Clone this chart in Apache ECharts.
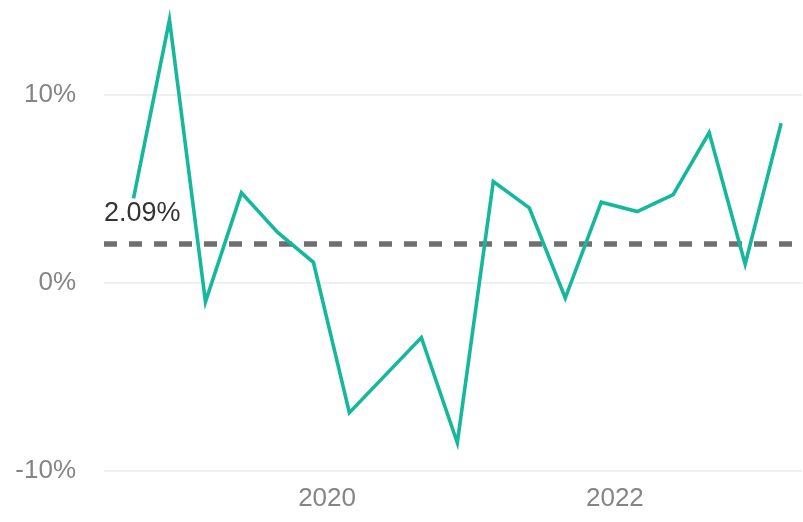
<!DOCTYPE html>
<html>
<head>
<meta charset="utf-8">
<title>Quarterly growth</title>
<script src="https://cdn.jsdelivr.net/npm/echarts@6/dist/echarts.min.js"></script>
<style>
  html, body { margin: 0; padding: 0; background: #ffffff; }
  #chart { width: 803px; height: 522px; }
</style>
</head>
<body>
<div id="chart"></div>
<script>
// Quarterly growth rate (%), 2018 Q3 – 2023 Q1
const quarters = [
  '2018 Q3', '2018 Q4',
  '2019 Q1', '2019 Q2', '2019 Q3', '2019 Q4',
  '2020 Q1', '2020 Q2', '2020 Q3', '2020 Q4',
  '2021 Q1', '2021 Q2', '2021 Q3', '2021 Q4',
  '2022 Q1', '2022 Q2', '2022 Q3', '2022 Q4',
  '2023 Q1'
];
const growth = [
  4.5, 14.0,
  -1.0, 4.8, 2.7, 1.1,
  -6.9, -4.9, -2.9, -8.5,
  5.4, 4.0, -0.8, 4.3,
  3.8, 4.7, 8.0, 1.0,
  8.5
];
const averageValue = 2.09;
const yearLabels = [2020, 2022];
const yTicks = [-10, 0, 10];

// Each quarter sits on a continuous year scale, dated near the end of its second month.
function quarterToYear(label) {
  const [y, q] = label.split(' Q');
  return Number(y) + (Number(q) - 1) / 4 + 0.155;
}
const points = quarters.map((q, i) => [quarterToYear(q), growth[i]]);

const labelFont = '"Liberation Sans", Arial, sans-serif';

const chart = echarts.init(document.getElementById('chart'));
chart.setOption({
  animation: false,
  backgroundColor: '#ffffff',
  grid: { left: 104, right: 1, top: -93, bottom: 51, outerBoundsMode: 'none', containLabel: false },
  xAxis: {
    type: 'value',
    min: 2018.45,
    max: 2023.3,
    interval: 0.05,
    axisLine: { show: false },
    axisTick: { show: false },
    splitLine: { show: false },
    minorSplitLine: { show: false },
    axisLabel: {
      margin: 15,
      color: '#858585',
      fontSize: 26,
      fontFamily: labelFont,
      formatter: function (v) {
        const r = Math.round(v);
        if (Math.abs(v - r) < 1e-6 && yearLabels.indexOf(r) >= 0) return String(r);
        return '';
      }
    }
  },
  yAxis: {
    type: 'value',
    min: -10,
    max: 20,
    interval: 10,
    axisLine: { show: false },
    axisTick: { show: false },
    splitLine: { lineStyle: { color: '#ebebeb', width: 1.5 } },
    axisLabel: {
      margin: 28,
      color: '#858585',
      fontSize: 26,
      fontFamily: labelFont,
      formatter: function (v) {
        return yTicks.indexOf(v) >= 0 ? v + '%' : '';
      }
    }
  },
  series: [{
    type: 'line',
    data: points,
    showSymbol: false,
    symbol: 'none',
    lineStyle: { color: '#15b89c', width: 3.6, join: 'miter' },
    itemStyle: { color: '#15b89c' },
    z: 3,
    markLine: {
      silent: true,
      symbol: 'none',
      z: 2,
      lineStyle: { color: '#6f6f6f', type: [13, 12], width: 5.5 },
      label: {
        show: true,
        position: 'insideStartTop',
        distance: [0, 17],
        formatter: averageValue.toFixed(2) + '%',
        color: '#333333',
        fontSize: 27,
        fontFamily: labelFont
      },
      data: [{ yAxis: averageValue }]
    }
  }]
});
</script>
</body>
</html>
